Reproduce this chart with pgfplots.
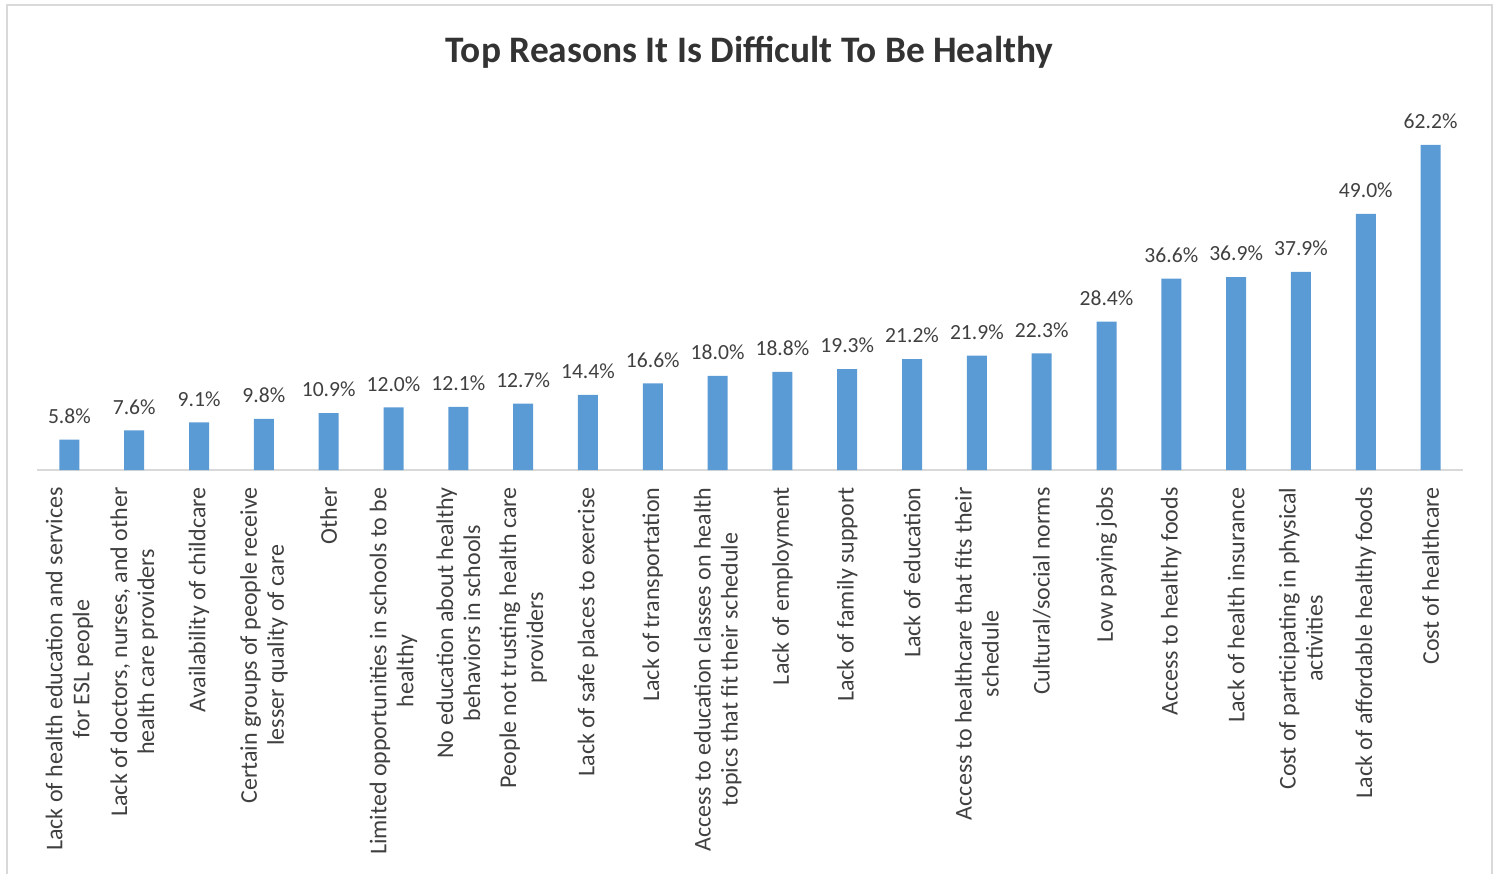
\documentclass[border=0pt]{standalone}
\usepackage{pgfplots}
\pgfplotsset{compat=1.18}
\usepackage{fontspec}
\setmainfont{Carlito}
\definecolor{barblue}{HTML}{5B9BD5}
\definecolor{txt}{HTML}{404040}
\definecolor{ttl}{HTML}{333333}
\definecolor{axgray}{HTML}{D9D9D9}
\begin{document}
\begin{tikzpicture}
\path[use as bounding box] (0pt,0pt) rectangle (748.5pt,436.5pt);
\draw[color=axgray, line width=0.6pt] (3.5pt,-10pt) rectangle (746pt,434pt);
\node[font=\fontsize{18.7}{22}\selectfont\bfseries, text=ttl] at (374.75pt,410.5pt) {Top Reasons It Is Difficult To Be Healthy};
\begin{axis}[
  at={(18.5pt,201.5pt)}, anchor=south west,
  scale only axis,
  width=713pt, height=182.9pt,
  xmin=-0.5, xmax=21.5, ymin=0, ymax=70,
  axis x line*=bottom, axis y line=none,
  x axis line style={color=axgray, line width=0.8pt, -},
  xtick=data, major tick length=0,
  xticklabels={
    {Lack of health education and services\\for ESL people},
    {Lack of doctors, nurses, and other\\health care providers},
    {Availability of childcare},
    {Certain groups of people receive\\lesser quality of care},
    {Other},
    {Limited opportunities in schools to be\\healthy},
    {No education about healthy\\behaviors in schools},
    {People not trusting health care\\providers},
    {Lack of safe places to exercise},
    {Lack of transportation},
    {Access to education classes on health\\topics that fit their schedule},
    {Lack of employment},
    {Lack of family support},
    {Lack of education},
    {Access to healthcare that fits their\\schedule},
    {Cultural/social norms},
    {Low paying jobs},
    {Access to healthy foods},
    {Lack of health insurance},
    {Cost of participating in physical\\activities},
    {Lack of affordable healthy foods},
    {Cost of healthcare}},
  xticklabel style={rotate=90, anchor=east, align=center, font=\fontsize{12}{13.5}\selectfont, text=txt, inner sep=0pt, xshift=-8.5pt},
  ybar, bar width=10pt,
  /pgf/number format/assume math mode=true,
  nodes near coords={\pgfmathprintnumber[fixed,fixed zerofill,precision=1]{\pgfplotspointmeta}\%},
  every node near coord/.append style={font=\fontsize{10.8}{13}\selectfont, text=txt, yshift=4.5pt},
  clip=false,
]
\addplot[fill=barblue, draw=none] coordinates {
(0,5.8) (1,7.6) (2,9.1) (3,9.8) (4,10.9) (5,12.0) (6,12.1) (7,12.7) (8,14.4) (9,16.6) (10,18.0)
(11,18.8) (12,19.3) (13,21.2) (14,21.9) (15,22.3) (16,28.4) (17,36.6) (18,36.9) (19,37.9) (20,49.0) (21,62.2)};
\end{axis}
\end{tikzpicture}
\end{document}
